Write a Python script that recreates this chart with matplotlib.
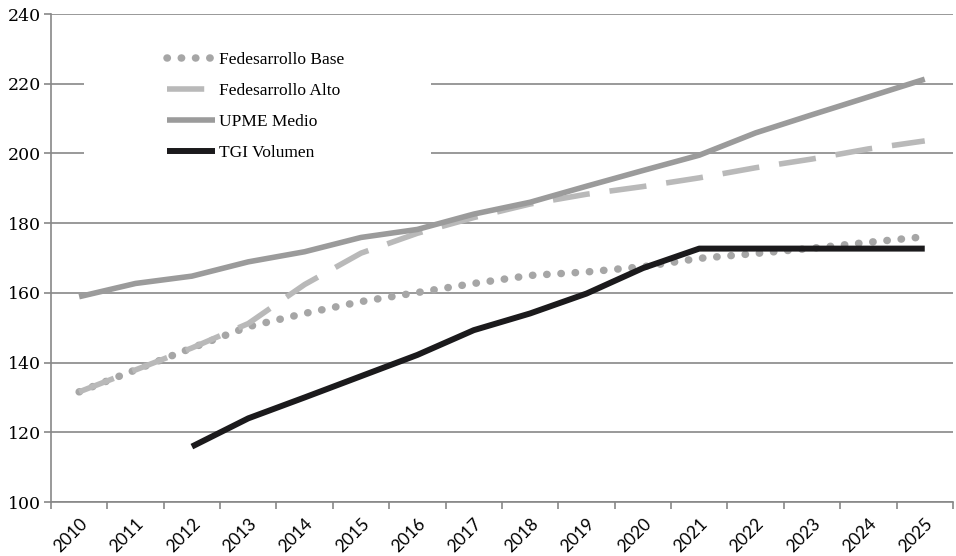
import numpy as np
import matplotlib
matplotlib.use("Agg")
import matplotlib.pyplot as plt
from matplotlib.patches import Rectangle
from matplotlib.transforms import ScaledTranslation

# data
years = [str(y) for y in range(2010, 2026)]
fede_base = [131.6, 137.9, 144.2, 150.3, 154.1, 157.5, 160.1, 162.7,
             165.0, 166.0, 167.5, 169.9, 171.3, 172.8, 174.5, 176.1]
fede_alto = [131.6, 137.9, 144.2, 151.2, 162.4, 171.4, 177.1, 181.6,
             185.5, 188.3, 190.5, 193.0, 195.9, 198.4, 201.3, 203.6]
upme_medio = [158.9, 162.7, 164.8, 168.9, 171.8, 175.9, 178.2, 182.6,
              186.0, 190.6, 195.1, 199.5, 205.9, 211.1, 216.2, 221.3]
tgi_years = years[2:]
tgi_vol = [115.9, 124.0, 130.0, 136.1, 142.2, 149.3, 154.1, 159.8,
           167.1, 172.7, 172.7, 172.7, 172.7, 172.7]

grid_c = "#878787"

fig = plt.figure(figsize=(9.56, 5.56), dpi=100)
ax = fig.add_axes([0.0533, 0.0971, 0.9435, 0.8777])

x = np.arange(len(years))
xt = np.arange(len(tgi_years)) + 2

ax.plot(x, fede_base, color="#a6a6a6", lw=5.4, linestyle=(0, (0.05, 1.85)),
        dash_capstyle="round", label="Fedesarrollo Base", zorder=3)
ax.plot(x, fede_alto, color="#b9b9b9", lw=4.0, linestyle=(0, (6.7, 3.6)),
        dash_capstyle="butt", label="Fedesarrollo Alto", zorder=3)
ax.plot(x, upme_medio, color="#9b9b9b", lw=4.0, solid_capstyle="butt",
        label="UPME Medio", zorder=3)
ax.plot(xt, tgi_vol, color="#1b1a1c", lw=4.3, solid_capstyle="butt",
        label="TGI Volumen", zorder=4)

ax.set_xlim(-0.5, len(years) - 0.5)
ax.set_ylim(100, 240)
ax.set_yticks(range(100, 241, 20))
ax.yaxis.grid(True, color=grid_c, lw=1.2, zorder=0.5)
ax.set_axisbelow(True)

# category boundaries carry the tick marks, labels sit in the middle
ax.set_xticks(np.arange(-0.5, len(years), 1.0))
ax.set_xticklabels([])
ax.set_xticks(x, minor=True)
ax.set_xticklabels(years, minor=True, rotation=45, ha="right", va="top",
                   rotation_mode="anchor", fontfamily="Lato", fontsize=12.5)
shift = ScaledTranslation(-4 / 100, -1 / 100, fig.dpi_scale_trans)
for lab in ax.get_xticklabels(minor=True):
    lab.set_transform(lab.get_transform() + shift)
ax.tick_params(axis="x", which="major", length=5, width=1.2, color=grid_c)
ax.tick_params(axis="x", which="minor", length=0, pad=10)
ax.tick_params(axis="y", length=5, width=1.2, color=grid_c, pad=2)
for lab in ax.get_yticklabels():
    lab.set_fontfamily("DejaVu Serif")
    lab.set_fontsize(12.5)

for s in ["top", "right"]:
    ax.spines[s].set_visible(False)
for s in ["left", "bottom"]:
    ax.spines[s].set_color(grid_c)
    ax.spines[s].set_linewidth(1.2)

# white block behind the legend hides the gridlines there
ax.add_patch(Rectangle((0.0366, 0.60), 0.385, 0.36, transform=ax.transAxes,
                       facecolor="white", edgecolor="none", zorder=1))

ax.legend(loc="upper left", bbox_to_anchor=(0.1286, 0.922), frameon=False,
          borderpad=0, borderaxespad=0, handlelength=2.76, handletextpad=0.25,
          labelspacing=0.85, prop={"family": "Liberation Serif", "size": 12.5})

fig.savefig("out.png", dpi=100)
